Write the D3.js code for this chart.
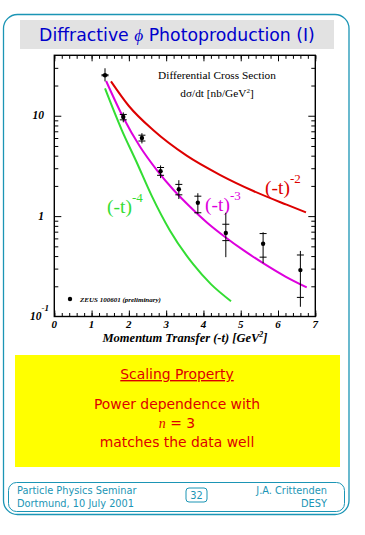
<!DOCTYPE html>
<html lang="en">
<head>
<meta charset="UTF-8">
<script src="https://cdn.jsdelivr.net/npm/d3@7"></script>
<title>Diffractive phi Photoproduction</title>
<style>
    body { margin: 0; background: white; }
    svg { display: block; }
    .serif { font-family: "Liberation Serif", "DejaVu Serif", serif; }
    .sans { font-family: "DejaVu Sans", Verdana, sans-serif; }
    .axis path { display: none; }
    .axis line { stroke: black; stroke-width: 1; }
</style>
</head>
<body>
<div id="chart"></div>
<script>
    // ZEUS data points (-t in GeV^2, dsigma/dt in nb/GeV^2)
    const tVals  = [1.36, 1.85, 2.35, 2.85, 3.34, 3.85, 4.6, 5.6, 6.6];
    const dsdt   = [25.3, 9.7, 6.0, 2.8, 1.85, 1.36, 0.68, 0.53, 0.29];
    const statLo = [25.0, 9.1, 5.6, 2.55, 1.63, 1.08, 0.57, 0.39, 0.155];
    const statHi = [25.6, 10.3, 6.4, 3.05, 2.07, 1.58, 0.83, 0.67, 0.41];
    const totLo  = [22.0, 8.6, 5.3, 2.39, 1.48, 1.05, 0.39, 0.34, 0.125];
    const totHi  = [29.7, 10.8, 6.7, 3.2, 2.28, 1.69, 1.08, 0.69, 0.45];

    // power-law curves
    const fit2T = [1.52, 2.0, 2.65, 3.55, 4.44, 5.34, 6.23, 6.75];
    const fit2Y = [22, 12.5, 7.2, 4.0, 2.58, 1.78, 1.3, 1.09];
    const fit3T = [1.39, 1.85, 2.3, 2.75, 3.2, 3.64, 4.1, 4.58, 5.1, 5.6, 6.2, 6.77];
    const fit3Y = [22.2, 9.6, 4.9, 2.87, 1.82, 1.24, 0.86, 0.62, 0.45, 0.34, 0.25, 0.195];
    const fit4T = [1.36, 1.81, 2.2, 2.61, 3.1, 3.73, 4.2, 4.74];
    const fit4Y = [18.7, 7.2, 3.5, 1.6, 0.72, 0.33, 0.21, 0.142];

    const xTicks = [0, 1, 2, 3, 4, 5, 6, 7];
    const yMinor = [0.2, 0.3, 0.4, 0.5, 0.6, 0.7, 0.8, 0.9, 2, 3, 4, 5, 6, 7, 8, 9, 20, 30];
    const yMajor = [1, 10];

    const W = 365, H = 535;
    const teal = "#1b95b5";

    const svg = d3.select("#chart").append("svg")
        .attr("width", W)
        .attr("height", H);

    // slide frame
    svg.append("rect")
        .attr("x", 3.5).attr("y", 14.5).attr("width", 345.5).attr("height", 500)
        .attr("rx", 14).attr("fill", "none").attr("stroke", teal).attr("stroke-width", 1.3);

    // title bar
    svg.append("rect")
        .attr("x", 20).attr("y", 20).attr("width", 314).attr("height", 29)
        .attr("fill", "#e2e2e2");
    const title = svg.append("text").attr("class", "sans")
        .attr("x", 177).attr("y", 41).attr("text-anchor", "middle")
        .attr("font-size", 17.3).attr("fill", "#0000cc");
    title.append("tspan").text("Diffractive ");
    title.append("tspan").attr("class", "serif").attr("font-style", "italic").text("\u03d5");
    title.append("tspan").text(" Photoproduction (I)");

    // plot
    const x = d3.scaleLinear().domain([0, 7]).range([54.3, 315.3]);
    const y = d3.scaleLog().domain([0.1, 40]).range([316.5, 55.3]);

    const g = svg.append("g");

    // minor ticks
    const xMinor = d3.range(0, 7.01, 0.2).map(v => +v.toFixed(1));
    g.append("g").attr("class", "axis")
        .attr("transform", `translate(0,${y(0.1)})`)
        .call(d3.axisBottom(x).tickValues(xMinor).tickSize(-3.5).tickFormat(""));
    g.append("g").attr("class", "axis")
        .attr("transform", `translate(0,${y(0.1)})`)
        .call(d3.axisBottom(x).tickValues(xTicks).tickSize(-6).tickFormat(""));
    g.append("g").attr("class", "axis")
        .attr("transform", `translate(0,${y(40)})`)
        .call(d3.axisTop(x).tickValues(xMinor).tickSize(-3.5).tickFormat(""));
    g.append("g").attr("class", "axis")
        .attr("transform", `translate(0,${y(40)})`)
        .call(d3.axisTop(x).tickValues(xTicks).tickSize(-6).tickFormat(""));

    g.append("g").attr("class", "axis")
        .attr("transform", `translate(${x(0)},0)`)
        .call(d3.axisLeft(y).tickValues(yMinor).tickSize(-4).tickFormat(""));
    g.append("g").attr("class", "axis")
        .attr("transform", `translate(${x(0)},0)`)
        .call(d3.axisLeft(y).tickValues(yMajor).tickSize(-7).tickFormat(""));
    g.append("g").attr("class", "axis")
        .attr("transform", `translate(${x(7)},0)`)
        .call(d3.axisRight(y).tickValues(yMinor).tickSize(-4).tickFormat(""));
    g.append("g").attr("class", "axis")
        .attr("transform", `translate(${x(7)},0)`)
        .call(d3.axisRight(y).tickValues(yMajor).tickSize(-7).tickFormat(""));

    // frame
    g.append("rect")
        .attr("x", x(0)).attr("y", y(40))
        .attr("width", x(7) - x(0)).attr("height", y(0.1) - y(40))
        .attr("fill", "none").attr("stroke", "black").attr("stroke-width", 1.4);

    // tick labels
    g.selectAll(".xlab").data(xTicks).enter().append("text")
        .attr("class", "serif")
        .attr("x", d => x(d)).attr("y", 327.5)
        .attr("text-anchor", "middle")
        .attr("font-size", 11).attr("font-weight", "bold").attr("font-style", "italic")
        .text(d => d);

    const ylab = (val, label, sup) => {
        const t = g.append("text").attr("class", "serif")
            .attr("x", sup ? 30 : 44).attr("y", y(val) + 3.5)
            .attr("text-anchor", sup ? "start" : "end")
            .attr("font-size", 11.5).attr("font-weight", "bold").attr("font-style", "italic");
        t.append("tspan").text(label);
        if (sup) t.append("tspan").attr("dy", -9).attr("font-size", 9).text(sup);
    };
    ylab(10, "10");
    ylab(1, "1");
    ylab(0.1, "10", "-1");

    // axis title
    const xt = g.append("text").attr("class", "serif")
        .attr("x", 185).attr("y", 342).attr("text-anchor", "middle")
        .attr("font-size", 12.5).attr("font-weight", "bold").attr("font-style", "italic");
    xt.append("tspan").text("Momentum Transfer (-t) [GeV");
    xt.append("tspan").attr("dy", -5).attr("font-size", 8).text("2");
    xt.append("tspan").attr("dy", 5).text("]");

    g.append("text").attr("class", "serif")
        .attr("x", 217).attr("y", 79).attr("text-anchor", "middle")
        .attr("font-size", 11.3).text("Differential Cross Section");
    const yt = g.append("text").attr("class", "serif")
        .attr("x", 217).attr("y", 97).attr("text-anchor", "middle")
        .attr("font-size", 11.3);
    yt.append("tspan").text("d\u03c3/dt [nb/GeV");
    yt.append("tspan").attr("dy", -4).attr("font-size", 7).text("2");
    yt.append("tspan").attr("dy", 4).text("]");

    // curves
    const line = d3.line()
        .x(d => x(d[0])).y(d => y(d[1]))
        .curve(d3.curveMonotoneX);
    const curves = [
        { t: fit2T, v: fit2Y, color: "#dd0000" },
        { t: fit3T, v: fit3Y, color: "#dd00dd" },
        { t: fit4T, v: fit4Y, color: "#33dd33" }
    ];
    curves.forEach(c => {
        g.append("path")
            .datum(c.t.map((t, i) => [t, c.v[i]]))
            .attr("d", line)
            .attr("fill", "none")
            .attr("stroke", c.color)
            .attr("stroke-width", 2);
    });

    // curve labels
    const curveLabel = (px, py, exp, color) => {
        const t = g.append("text").attr("class", "serif")
            .attr("x", px).attr("y", py)
            .attr("font-size", 19.5).attr("fill", color);
        t.append("tspan").text("(-t)");
        t.append("tspan").attr("dy", -11).attr("font-size", 13).text(exp);
    };
    curveLabel(265, 194, "-2", "#dd0000");
    curveLabel(205, 211, "-3", "#dd00dd");
    curveLabel(107, 213, "-4", "#33dd33");

    // data points
    const pts = tVals.map((t, i) => ({ t, v: dsdt[i], sl: statLo[i], sh: statHi[i], tl: totLo[i], th: totHi[i] }));
    const pg = g.selectAll(".pt").data(pts).enter().append("g");
    pg.append("line")
        .attr("x1", d => x(d.t)).attr("x2", d => x(d.t))
        .attr("y1", d => y(d.tl)).attr("y2", d => y(d.th))
        .attr("stroke", "black").attr("stroke-width", 1);
    [d => d.sl, d => d.sh].forEach(f => {
        pg.append("line")
            .attr("x1", d => x(d.t) - 3.5).attr("x2", d => x(d.t) + 3.5)
            .attr("y1", d => y(f(d))).attr("y2", d => y(f(d)))
            .attr("stroke", "black").attr("stroke-width", 1);
    });
    pg.append("circle")
        .attr("cx", d => x(d.t)).attr("cy", d => y(d.v))
        .attr("r", 2.2).attr("fill", "black");

    // legend
    g.append("circle").attr("cx", 70).attr("cy", 299).attr("r", 2.2).attr("fill", "black");
    g.append("text").attr("class", "serif")
        .attr("x", 80).attr("y", 301.5)
        .attr("font-size", 7).attr("font-weight", "bold").attr("font-style", "italic")
        .text("ZEUS 100601 (preliminary)");

    // yellow summary box
    svg.append("rect")
        .attr("x", 15).attr("y", 355).attr("width", 325).attr("height", 112)
        .attr("fill", "#ffff00");
    const red = "#dd0000";
    const boxText = (py, txt, underline) => svg.append("text").attr("class", "sans")
        .attr("x", 177).attr("y", py).attr("text-anchor", "middle")
        .attr("font-size", 13.9).attr("fill", red)
        .attr("text-decoration", underline ? "underline" : null)
        .text(txt);
    boxText(379, "Scaling Property", true);
    boxText(409, "Power dependence with");
    const nt = svg.append("text").attr("class", "sans")
        .attr("x", 177).attr("y", 428).attr("text-anchor", "middle")
        .attr("font-size", 13.9).attr("fill", red);
    nt.append("tspan").attr("class", "serif").attr("font-style", "italic").text("n");
    nt.append("tspan").text(" = 3");
    boxText(447, "matches the data well");

    // footer
    svg.append("rect")
        .attr("x", 8.5).attr("y", 482.5).attr("width", 336).attr("height", 29)
        .attr("rx", 8).attr("fill", "none").attr("stroke", teal).attr("stroke-width", 1);
    const foot = (px, py, txt, anchor) => svg.append("text").attr("class", "sans")
        .attr("x", px).attr("y", py).attr("text-anchor", anchor)
        .attr("font-size", 9.8).attr("fill", teal).text(txt);
    foot(17, 494, "Particle Physics Seminar", "start");
    foot(17, 506.5, "Dortmund, 10 July 2001", "start");
    foot(327, 494, "J.A. Crittenden", "end");
    foot(327, 506.5, "DESY", "end");
    svg.append("rect")
        .attr("x", 186).attr("y", 488).attr("width", 21).attr("height", 14)
        .attr("rx", 3).attr("fill", "none").attr("stroke", teal).attr("stroke-width", 1);
    foot(196.5, 499, "32", "middle");
</script>
</body>
</html>
